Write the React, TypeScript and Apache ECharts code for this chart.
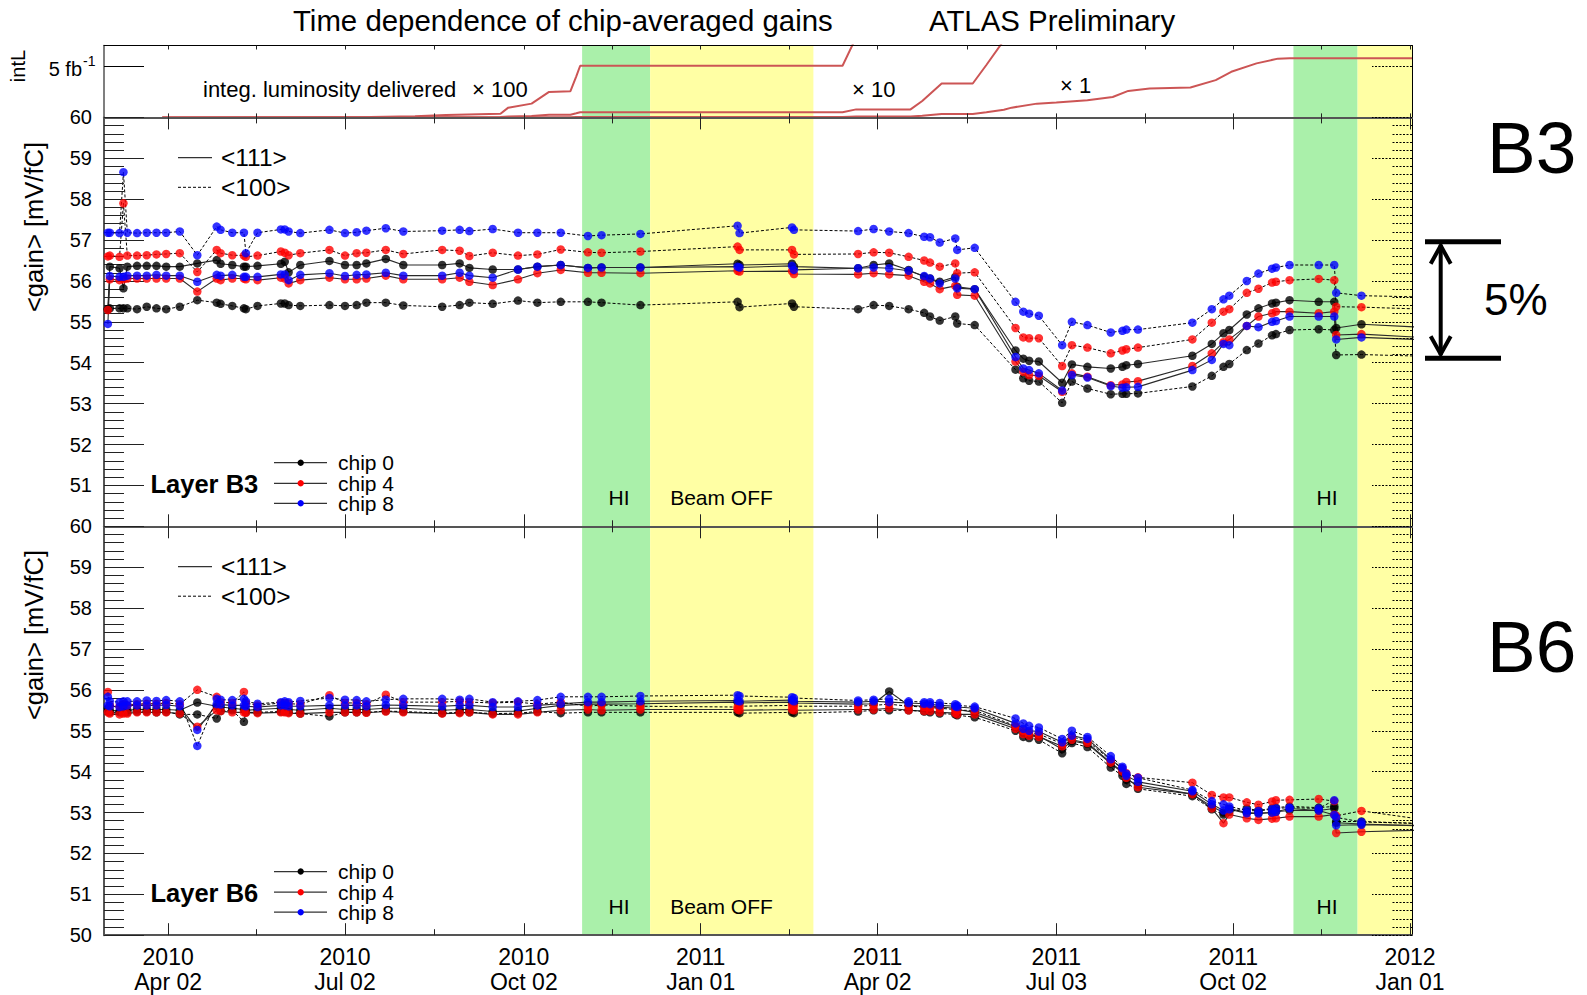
import React, { useEffect, useRef } from "react";
import * as echarts from "echarts";

const FONT = "'Liberation Sans', Arial, Helvetica, sans-serif";

// ---------------- data ----------------

// Calibration runs (shared by both layers)
const runDates = [
  "2010-03-02", "2010-03-03", "2010-03-08", "2010-03-10", "2010-03-12", "2010-03-17", "2010-03-22", "2010-03-27", "2010-04-01", "2010-04-08",
  "2010-04-17", "2010-04-27", "2010-04-29", "2010-05-05", "2010-05-11", "2010-05-12", "2010-05-18", "2010-05-30", "2010-06-01", "2010-06-03",
  "2010-06-09", "2010-06-24", "2010-07-02", "2010-07-08", "2010-07-13", "2010-07-23", "2010-08-01", "2010-08-21", "2010-08-30", "2010-09-04",
  "2010-09-16", "2010-09-29", "2010-10-09", "2010-10-21", "2010-11-04", "2010-11-11", "2010-12-01", "2011-01-20", "2011-01-21", "2011-02-17",
  "2011-02-18", "2011-03-23", "2011-03-31", "2011-04-08", "2011-04-18", "2011-04-26", "2011-04-29", "2011-05-04", "2011-05-12", "2011-05-13",
  "2011-05-22", "2011-06-12", "2011-06-16", "2011-06-19", "2011-06-24", "2011-07-06", "2011-07-11", "2011-07-19", "2011-07-31", "2011-08-06",
  "2011-08-08", "2011-08-14", "2011-09-11", "2011-09-21", "2011-09-27", "2011-09-30", "2011-10-09", "2011-10-15", "2011-10-22", "2011-10-24",
  "2011-10-31", "2011-11-15", "2011-11-23", "2011-11-24", "2011-12-07", "2012-01-15",
];

// Layer B3, chip-averaged gain [mV/fC]
const b3Chip0_111 = [
  55.31, 56.35, 56.31, 55.82, 56.35, 56.37, 56.37, 56.37, 56.35, 56.35,
  56.43, 56.51, 56.42, 56.39, 56.35, 56.35, 56.37, 56.42, 56.47, 56.21,
  56.39, 56.49, 56.39, 56.39, 56.43, 56.54, 56.39, 56.39, 56.43, 56.32,
  56.28, 56.28, 56.35, 56.39, 56.32, 56.33, 56.33, 56.42, 56.39, 56.42,
  56.35, 56.31, 56.39, 56.43, 56.27, 56.10, 56.06, 55.98, 56.10, 55.86,
  55.80, 54.30, 54.10, 54.05, 54.03, 53.51, 53.96, 53.90, 53.86, 53.90,
  53.94, 53.97, 54.17, 54.46, 54.72, 54.80, 55.18, 55.33, 55.45, 55.47,
  55.53, 55.49, 55.49, 54.85, 54.94, 54.85,
];
const b3Chip4_111 = [
  55.29, 56.04, 56.02, 56.04, 56.06, 56.06, 56.06, 56.06, 56.06, 56.06,
  55.74, 56.06, 56.02, 56.06, 56.06, 56.04, 56.02, 56.08, 56.06, 55.94,
  56.02, 56.08, 56.04, 56.04, 56.06, 56.13, 56.04, 56.04, 56.08, 55.98,
  55.90, 56.04, 56.19, 56.27, 56.20, 56.20, 56.19, 56.25, 56.23, 56.24,
  56.17, 56.16, 56.19, 56.16, 56.13, 55.98, 55.94, 55.80, 55.88, 55.66,
  55.64, 54.03, 53.78, 53.70, 53.68, 53.29, 53.74, 53.66, 53.45, 53.47,
  53.53, 53.55, 53.92, 54.23, 54.50, 54.57, 54.90, 55.13, 55.21, 55.25,
  55.25, 55.21, 55.25, 54.68, 54.70, 54.60,
];
const b3Chip8_111 = [
  54.95, 56.12, 56.10, 56.10, 56.13, 56.13, 56.13, 56.15, 56.13, 56.13,
  55.98, 56.15, 56.13, 56.15, 56.10, 56.10, 56.10, 56.16, 56.16, 56.02,
  56.15, 56.19, 56.12, 56.15, 56.16, 56.20, 56.13, 56.13, 56.20, 56.13,
  56.08, 56.28, 56.35, 56.39, 56.32, 56.33, 56.33, 56.35, 56.33, 56.37,
  56.27, 56.31, 56.33, 56.31, 56.25, 56.12, 56.06, 55.94, 56.06, 55.82,
  55.80, 54.14, 53.86, 53.82, 53.74, 53.32, 53.70, 53.64, 53.43, 53.39,
  53.40, 53.41, 53.82, 54.07, 54.46, 54.43, 54.90, 54.87, 55.00, 55.02,
  55.13, 55.13, 55.13, 54.57, 54.62, 54.55,
];
const b3Chip0_100 = [
  55.31, 55.33, 55.33, 55.33, 55.33, 55.31, 55.37, 55.33, 55.31, 55.37,
  55.53, 55.47, 55.44, 55.39, 55.33, 55.31, 55.39, 55.45, 55.45, 55.41,
  55.39, 55.41, 55.39, 55.41, 55.47, 55.47, 55.40, 55.37, 55.41, 55.47,
  55.44, 55.52, 55.47, 55.49, 55.49, 55.47, 55.41, 55.49, 55.36, 55.45,
  55.37, 55.31, 55.41, 55.39, 55.31, 55.22, 55.13, 55.03, 55.13, 54.96,
  54.92, 53.83, 53.62, 53.56, 53.54, 53.02, 53.54, 53.37, 53.23, 53.24,
  53.24, 53.25, 53.42, 53.68, 53.90, 53.97, 54.31, 54.47, 54.67, 54.70,
  54.80, 54.82, 54.80, 54.19, 54.20, 54.15,
];
const b3Chip4_100 = [
  56.60, 56.62, 56.59, 57.90, 56.62, 56.62, 56.63, 56.65, 56.66, 56.68,
  56.22, 56.76, 56.68, 56.63, 56.62, 56.59, 56.62, 56.72, 56.69, 56.63,
  56.68, 56.76, 56.62, 56.68, 56.69, 56.76, 56.66, 56.76, 56.74, 56.61,
  56.69, 56.62, 56.65, 56.77, 56.70, 56.69, 56.72, 56.84, 56.76, 56.76,
  56.65, 56.66, 56.70, 56.69, 56.59, 56.50, 56.45, 56.35, 56.43, 56.19,
  56.21, 54.85, 54.62, 54.60, 54.60, 53.92, 54.43, 54.37, 54.23, 54.30,
  54.33, 54.37, 54.57, 54.98, 55.25, 55.31, 55.71, 55.81, 55.96, 55.98,
  56.02, 56.05, 56.02, 55.37, 55.36, 55.30,
];
const b3Chip8_100 = [
  57.18, 57.18, 57.17, 58.66, 57.18, 57.17, 57.18, 57.18, 57.18, 57.21,
  56.63, 57.33, 57.25, 57.18, 57.18, 56.68, 57.18, 57.26, 57.26, 57.21,
  57.17, 57.25, 57.17, 57.19, 57.23, 57.29, 57.21, 57.23, 57.25, 57.22,
  57.27, 57.18, 57.18, 57.18, 57.10, 57.12, 57.15, 57.35, 57.17, 57.31,
  57.25, 57.22, 57.27, 57.21, 57.17, 57.08, 57.07, 56.94, 57.04, 56.76,
  56.81, 55.49, 55.25, 55.20, 55.15, 54.43, 55.00, 54.92, 54.74, 54.78,
  54.81, 54.81, 54.98, 55.31, 55.55, 55.64, 56.00, 56.18, 56.30, 56.33,
  56.39, 56.39, 56.39, 55.71, 55.64, 55.60,
];

// Layer B6, chip-averaged gain [mV/fC]
const b6Chip0_111 = [
  55.55, 55.50, 55.48, 55.50, 55.50, 55.52, 55.52, 55.52, 55.52, 55.50,
  55.69, 55.60, 55.58, 55.55, 55.52, 55.50, 55.52, 55.55, 55.55, 55.52,
  55.50, 55.55, 55.52, 55.52, 55.52, 55.55, 55.55, 55.50, 55.52, 55.52,
  55.47, 55.48, 55.55, 55.62, 55.65, 55.65, 55.66, 55.70, 55.68, 55.70,
  55.68, 55.65, 55.66, 55.96, 55.62, 55.60, 55.60, 55.58, 55.55, 55.52,
  55.45, 55.10, 54.95, 54.90, 54.88, 54.55, 54.75, 54.68, 54.20, 53.98,
  53.80, 53.68, 53.45, 53.15, 53.00, 53.10, 53.00, 52.98, 53.00, 53.02,
  53.05, 53.05, 53.10, 52.75, 52.72, 52.66,
];
const b6Chip4_111 = [
  55.45, 55.42, 55.40, 55.42, 55.42, 55.45, 55.45, 55.45, 55.45, 55.42,
  55.10, 55.50, 55.48, 55.45, 55.45, 55.44, 55.43, 55.45, 55.45, 55.43,
  55.42, 55.45, 55.45, 55.45, 55.44, 55.47, 55.45, 55.42, 55.43, 55.45,
  55.40, 55.40, 55.45, 55.50, 55.52, 55.50, 55.52, 55.52, 55.50, 55.52,
  55.50, 55.52, 55.52, 55.55, 55.50, 55.48, 55.48, 55.45, 55.43, 55.40,
  55.40, 55.05, 54.92, 54.88, 54.85, 54.62, 54.78, 54.70, 54.22, 54.00,
  53.85, 53.62, 53.45, 53.10, 52.74, 52.95, 52.86, 52.82, 52.85, 52.86,
  52.90, 52.90, 52.95, 52.50, 52.53, 52.58,
];
const b6Chip8_111 = [
  55.62, 55.60, 55.58, 55.60, 55.62, 55.62, 55.62, 55.62, 55.63, 55.60,
  55.02, 55.65, 55.64, 55.62, 55.62, 55.60, 55.58, 55.62, 55.62, 55.60,
  55.60, 55.62, 55.62, 55.62, 55.60, 55.63, 55.62, 55.60, 55.62, 55.62,
  55.58, 55.58, 55.62, 55.66, 55.70, 55.70, 55.72, 55.74, 55.72, 55.75,
  55.72, 55.70, 55.72, 55.70, 55.68, 55.66, 55.65, 55.62, 55.60, 55.58,
  55.55, 55.18, 55.05, 55.00, 54.98, 54.72, 54.88, 54.80, 54.30, 54.08,
  53.90, 53.75, 53.52, 53.20, 53.05, 53.08, 52.98, 52.98, 53.00, 53.02,
  53.10, 53.05, 52.94, 52.69, 52.70, 52.68,
];
const b6Chip0_100 = [
  55.48, 55.45, 55.45, 55.45, 55.45, 55.47, 55.47, 55.45, 55.46, 55.40,
  55.40, 55.30, 55.48, 55.50, 55.22, 55.45, 55.45, 55.47, 55.47, 55.45,
  55.42, 55.35, 55.45, 55.45, 55.45, 55.48, 55.47, 55.43, 55.45, 55.45,
  55.42, 55.43, 55.47, 55.43, 55.45, 55.45, 55.45, 55.45, 55.43, 55.45,
  55.43, 55.47, 55.50, 55.50, 55.50, 55.47, 55.45, 55.42, 55.40, 55.38,
  55.33, 55.00, 54.85, 54.82, 54.78, 54.45, 54.70, 54.60, 54.10, 53.90,
  53.70, 53.58, 53.40, 53.08, 52.95, 53.02, 53.10, 53.05, 53.10, 53.12,
  53.15, 53.12, 53.15, 52.78, 52.78, 52.72,
];
const b6Chip4_100 = [
  55.95, 55.62, 55.60, 55.65, 55.62, 55.65, 55.66, 55.66, 55.68, 55.65,
  56.00, 55.83, 55.70, 55.68, 55.95, 55.68, 55.62, 55.68, 55.68, 55.66,
  55.65, 55.87, 55.68, 55.68, 55.65, 55.88, 55.70, 55.70, 55.72, 55.70,
  55.68, 55.70, 55.65, 55.70, 55.60, 55.63, 55.60, 55.58, 55.60, 55.62,
  55.60, 55.60, 55.62, 55.65, 55.60, 55.58, 55.57, 55.55, 55.52, 55.50,
  55.50, 55.12, 55.00, 54.96, 54.92, 54.68, 54.85, 54.75, 54.28, 54.08,
  53.96, 53.86, 53.73, 53.43, 53.37, 53.37, 53.25, 53.19, 53.27, 53.30,
  53.31, 53.33, 53.28, 52.92, 53.04, 52.78,
];
const b6Chip8_100 = [
  55.83, 55.72, 55.70, 55.72, 55.72, 55.72, 55.74, 55.73, 55.75, 55.72,
  54.63, 55.78, 55.76, 55.75, 55.78, 55.72, 55.66, 55.70, 55.72, 55.70,
  55.73, 55.80, 55.76, 55.75, 55.72, 55.76, 55.78, 55.78, 55.76, 55.78,
  55.70, 55.72, 55.75, 55.83, 55.83, 55.83, 55.85, 55.87, 55.85, 55.82,
  55.80, 55.74, 55.76, 55.78, 55.72, 55.70, 55.70, 55.68, 55.65, 55.62,
  55.59, 55.30, 55.18, 55.12, 55.08, 54.80, 55.00, 54.85, 54.38, 54.12,
  53.95, 53.85, 53.55, 53.28, 53.20, 53.15, 53.05, 53.04, 53.08, 53.10,
  53.12, 53.10, 53.30, 52.88, 52.77, 52.72,
];

// Integrated luminosity delivered [fb^-1]
const lumiDates = [
  "2010-03-30", "2010-06-01", "2010-07-15", "2010-08-07", "2010-08-23", "2010-09-20", "2010-09-24", "2010-10-06", "2010-10-15", "2010-10-26",
  "2010-10-29", "2010-10-31", "2011-03-15", "2011-03-22", "2011-04-19", "2011-04-25", "2011-05-05", "2011-05-21", "2011-05-28", "2011-06-06",
  "2011-06-10", "2011-06-23", "2011-07-03", "2011-07-19", "2011-08-01", "2011-08-09", "2011-08-20", "2011-09-10", "2011-09-23", "2011-10-01",
  "2011-10-14", "2011-10-25", "2011-10-31", "2012-01-02",
];
const lumiDelivered = [
  0, 0.0002, 0.0005, 0.001, 0.0023, 0.0035, 0.0095, 0.0134, 0.0248, 0.0255,
  0.04, 0.0503, 0.0503, 0.078, 0.078, 0.16, 0.33, 0.33, 0.51, 0.75,
  0.95, 1.34, 1.44, 1.67, 1.99, 2.58, 2.81, 2.91, 3.63, 4.44,
  5.26, 5.72, 5.75, 5.75,
];
const lumiScales = [100, 10, 1];
const lumiScaleLabels = ["\u00d7 100", "\u00d7 10", "\u00d7 1"];

// Time axis
const axisRange = ["2010-02-28", "2012-01-02"];
const tickDates = ["2010-04-02", "2010-07-02", "2010-10-02", "2011-01-01", "2011-04-02", "2011-07-03", "2011-10-02", "2012-01-01"];
const tickLabels = ["2010\nApr 02", "2010\nJul 02", "2010\nOct 02", "2011\nJan 01", "2011\nApr 02", "2011\nJul 03", "2011\nOct 02", "2012\nJan 01"];

// Shaded periods
const hiPeriods = [["2010-11-01", "2010-12-06"], ["2011-11-02", "2011-12-05"]];
const beamOffPeriods = [["2010-12-06", "2011-02-28"], ["2011-12-05", "2012-01-02"]];

const chipNames = ["chip 0", "chip 4", "chip 8"];
const chipColors = ["#000000", "#ff0000", "#0000ff"];

// 5% scale bar
const scaleBarGain = 56.96;
const scaleBarFraction = 0.05;

// ---------------- helpers ----------------

const DAY_MS = 86400000;
const EPOCH = Date.UTC(2010, 3, 2);
function toDay(s: string): number {
  const [y, m, d] = s.split("-").map(Number);
  return Math.round((Date.UTC(y, m - 1, d) - EPOCH) / DAY_MS);
}

const runDays = runDates.map(toDay);
const lumiDays = lumiDates.map(toDay);
const majorDays = tickDates.map(toDay);
const minorDays = majorDays.slice(1).map((d, i) => (d + majorDays[i]) / 2);
const X_MIN = toDay(axisRange[0]);
const X_MAX = toDay(axisRange[1]);

const PLOT_LEFT = 104;
const PLOT_WIDTH = 1308;
const LUMI_TOP = 45.5;
const LUMI_H = 71.9;
const B3_TOP = 117.4;
const PANEL_H = 408.9;
const B6_TOP = B3_TOP + PANEL_H;

const HI_COLOR = "#aaf0aa";
const OFF_COLOR = "#ffffa4";
const AXIS_GRAY = "#555555";

function xAxisDef(gridIndex: number, position: string, ticks: number[], len: number, line: any, label?: any) {
  return {
    type: "value",
    gridIndex,
    position,
    min: X_MIN,
    max: X_MAX,
    z: 3,
    axisLine: line ? { show: true, onZero: false, lineStyle: line } : { show: false, onZero: false },
    axisTick: { show: true, inside: true, length: len, customValues: ticks, lineStyle: { color: "#222", width: 1 } },
    axisLabel: label || { show: false },
    splitLine: { show: false },
  };
}

function yLeftDef(gridIndex: number, hideMin: boolean) {
  return {
    type: "value",
    gridIndex,
    position: "left",
    min: 50,
    max: 60,
    interval: 1,
    z: 3,
    axisLine: { show: true, onZero: false, lineStyle: { color: AXIS_GRAY, width: 2 } },
    axisTick: { show: true, inside: true, length: 40, lineStyle: { color: "#222", width: 1 } },
    minorTick: { show: true, splitNumber: 5, length: 20, lineStyle: { color: "#222", width: 1 } },
    axisLabel: {
      show: true,
      margin: 12,
      fontSize: 20,
      fontFamily: FONT,
      color: "#000",
      formatter: (v: number) => (hideMin && v === 50 ? "" : String(v)),
    },
    splitLine: { show: false },
    minorSplitLine: { show: false },
  };
}

function yRightDef(gridIndex: number) {
  const dash = { color: "#000", width: 1, type: [2, 1.5] };
  return {
    type: "value",
    gridIndex,
    position: "right",
    min: 50,
    max: 60,
    interval: 1,
    z: 3,
    axisLine: { show: true, onZero: false, lineStyle: { color: "#000", width: 1 } },
    axisTick: { show: true, inside: true, length: 40, lineStyle: dash },
    minorTick: { show: true, splitNumber: 5, length: 20, lineStyle: dash },
    axisLabel: { show: false },
    splitLine: { show: false },
  };
}

function bandsMarkArea() {
  return {
    silent: true,
    data: [
      ...hiPeriods.map(([a, b]) => [{ xAxis: toDay(a), itemStyle: { color: HI_COLOR } }, { xAxis: toDay(b) }]),
      ...beamOffPeriods.map(([a, b]) => [{ xAxis: toDay(a), itemStyle: { color: OFF_COLOR } }, { xAxis: toDay(b) }]),
    ],
  };
}

function gainSeries(xAxisIndex: number, yAxisIndex: number, c111: number[][], c100: number[][]) {
  const pts = (vals: number[]) => runDays.map((d, i) => [d, vals[i]]);
  const out: any[] = [];
  c111.forEach((v) =>
    out.push({
      type: "line", xAxisIndex, yAxisIndex, data: pts(v), symbol: "none", silent: true, z: 2, clip: true,
      lineStyle: { color: "#2a2a2a", width: 1.1 },
    })
  );
  c100.forEach((v) =>
    out.push({
      type: "line", xAxisIndex, yAxisIndex, data: pts(v), symbol: "none", silent: true, z: 2, clip: true,
      lineStyle: { color: "#000", width: 1, type: [3, 2] },
    })
  );
  out[0].markArea = bandsMarkArea();
  chipColors.forEach((color, ci) =>
    [c111[ci], c100[ci]].forEach((v) =>
      out.push({
        type: "scatter", xAxisIndex, yAxisIndex, data: pts(v), symbol: "circle", symbolSize: 8.5,
        itemStyle: { color }, z: 4, silent: true, clip: true,
      })
    )
  );
  return out;
}

function buildOption() {
  const grayLine = { color: AXIS_GRAY, width: 2 };
  const blackLine = { color: "#000", width: 1 };
  const fineTicks = [...majorDays, ...minorDays];

  const lumiSeries: any[] = lumiScales.map((s) => ({
    type: "line",
    xAxisIndex: 0,
    yAxisIndex: 0,
    data: lumiDays.map((d, i) => [d, lumiDelivered[i] * s]),
    symbol: "none",
    silent: true,
    clip: true,
    z: 2,
    lineStyle: { color: "#cc5555", width: 2 },
  }));
  lumiSeries[0].markArea = bandsMarkArea();

  return {
    animation: false,
    backgroundColor: "#ffffff",
    textStyle: { fontFamily: FONT },
    grid: [
      { left: PLOT_LEFT, top: LUMI_TOP, width: PLOT_WIDTH, height: LUMI_H },
      { left: PLOT_LEFT, top: B3_TOP, width: PLOT_WIDTH, height: PANEL_H },
      { left: PLOT_LEFT, top: B6_TOP, width: PLOT_WIDTH, height: PANEL_H },
    ],
    xAxis: [
      xAxisDef(0, "bottom", fineTicks, 4, grayLine),
      xAxisDef(0, "top", fineTicks, 4, blackLine),
      xAxisDef(1, "bottom", majorDays, 12, grayLine),
      xAxisDef(1, "bottom", minorDays, 6, null),
      xAxisDef(1, "top", majorDays, 12, grayLine),
      xAxisDef(1, "top", minorDays, 6, null),
      xAxisDef(2, "bottom", majorDays, 12, grayLine, {
        show: true,
        customValues: majorDays,
        margin: 10,
        fontSize: 23,
        lineHeight: 24.5,
        fontFamily: FONT,
        color: "#000",
        formatter: (v: number) => {
          const i = majorDays.indexOf(Math.round(v));
          return i >= 0 ? tickLabels[i] : "";
        },
      }),
      xAxisDef(2, "bottom", minorDays, 6, null),
      xAxisDef(2, "top", majorDays, 12, grayLine),
      xAxisDef(2, "top", minorDays, 6, null),
    ],
    yAxis: [
      {
        type: "value", gridIndex: 0, position: "left", min: 0, max: 7, z: 3,
        axisLine: { show: true, onZero: false, lineStyle: { color: AXIS_GRAY, width: 1.5 } },
        axisTick: { show: true, inside: true, length: 40, customValues: [5], lineStyle: { color: "#000", width: 1 } },
        axisLabel: { show: false },
        splitLine: { show: false },
      },
      {
        type: "value", gridIndex: 0, position: "right", min: 0, max: 7, z: 3,
        axisLine: { show: true, onZero: false, lineStyle: { color: "#000", width: 1 } },
        axisTick: { show: true, inside: true, length: 40, customValues: [5], lineStyle: { color: "#000", width: 1, type: [2, 1.5] } },
        axisLabel: { show: false },
        splitLine: { show: false },
      },
      yLeftDef(1, true),
      yRightDef(1),
      yLeftDef(2, false),
      yRightDef(2),
    ],
    series: [
      ...lumiSeries,
      ...gainSeries(2, 2, [b3Chip0_111, b3Chip4_111, b3Chip8_111], [b3Chip0_100, b3Chip4_100, b3Chip8_100]),
      ...gainSeries(6, 4, [b6Chip0_111, b6Chip4_111, b6Chip8_111], [b6Chip0_100, b6Chip4_100, b6Chip8_100]),
    ],
  };
}

function txt(x: number, y: number, text: string, size: number, extra: any = {}) {
  const { align, weight, rotation, valign } = extra;
  return {
    type: "text",
    x,
    y,
    rotation: rotation || 0,
    z: 10,
    silent: true,
    style: {
      text,
      fill: "#000",
      font: `${weight || "normal"} ${size}px ${FONT}`,
      textAlign: align || "left",
      textVerticalAlign: valign || "middle",
    },
  };
}

function seg(x1: number, y1: number, x2: number, y2: number, stroke: string, lineWidth: number, dash?: number[]) {
  return {
    type: "line",
    z: 10,
    silent: true,
    shape: { x1, y1, x2, y2 },
    style: { stroke, lineWidth, lineDash: dash || null },
  };
}

function buildGraphic(chart: any) {
  const g: any[] = [];

  g.push(txt(293, 20, "Time dependence of chip-averaged gains", 29.4));
  g.push(txt(929, 20, "ATLAS Preliminary", 29.4));

  // luminosity panel annotations
  g.push(txt(18, 66, "intL", 20, { align: "center", rotation: Math.PI / 2 }));
  g.push(txt(82, 69, "5 fb", 20, { align: "right" }));
  g.push(txt(83, 61, "-1", 14));
  g.push(txt(203, 89, "integ. luminosity delivered", 22));
  g.push(txt(472, 89, lumiScaleLabels[0], 22));
  g.push(txt(852, 89, lumiScaleLabels[1], 22));
  g.push(txt(1060, 85, lumiScaleLabels[2], 22));

  // per-panel decorations
  [
    { dy: 0, layer: "Layer B3", big: "B3", bigY: 147, name: 227 },
    { dy: PANEL_H, layer: "Layer B6", big: "B6", bigY: 646, name: 635 },
  ].forEach((p) => {
    g.push(txt(34, p.name, "<gain> [mV/fC]", 25.5, { align: "center", rotation: Math.PI / 2 }));
    g.push(seg(178, 157.7 + p.dy, 212, 157.7 + p.dy, "#333", 1.2));
    g.push(txt(221, 157.7 + p.dy, "<111>", 24.5));
    g.push(seg(178, 187.3 + p.dy, 212, 187.3 + p.dy, "#000", 1, [3, 2]));
    g.push(txt(221, 187.3 + p.dy, "<100>", 24.5));

    g.push(txt(150.5, 484 + p.dy, p.layer, 25.5, { weight: "bold" }));
    [462.7, 483.3, 503.3].forEach((y, i) => {
      g.push(seg(274, y + p.dy, 327, y + p.dy, "#333", 1.2));
      g.push({
        type: "circle", z: 10, silent: true,
        shape: { cx: 300.7, cy: y + p.dy, r: 3.2 },
        style: { fill: chipColors[i] },
      });
      g.push(txt(338, y + p.dy, chipNames[i], 21));
    });

    g.push(txt(619, 497.5 + p.dy, "HI", 21, { align: "center" }));
    g.push(txt(721.5, 497.5 + p.dy, "Beam OFF", 21, { align: "center" }));
    g.push(txt(1327, 497.5 + p.dy, "HI", 21, { align: "center" }));

    g.push(txt(1487, p.bigY, p.big, 73));
  });

  // 5% scale bar next to layer B3
  const yHi = chart.convertToPixel({ yAxisIndex: 2 }, scaleBarGain) as number;
  const yLo = chart.convertToPixel({ yAxisIndex: 2 }, scaleBarGain * (1 - scaleBarFraction)) as number;
  const ax = 1440.7;
  g.push(seg(1425, yHi, 1501, yHi, "#000", 5));
  g.push(seg(1425, yLo, 1501, yLo, "#000", 5));
  g.push(seg(ax, yHi + 3, ax, yLo - 3, "#000", 4));
  g.push({
    type: "polyline", z: 10, silent: true,
    shape: { points: [[ax - 10, yHi + 22], [ax, yHi + 4], [ax + 10, yHi + 22]] },
    style: { stroke: "#000", lineWidth: 4, fill: null },
  });
  g.push({
    type: "polyline", z: 10, silent: true,
    shape: { points: [[ax - 10, yLo - 22], [ax, yLo - 4], [ax + 10, yLo - 22]] },
    style: { stroke: "#000", lineWidth: 4, fill: null },
  });
  g.push(txt(1484, (yHi + yLo) / 2, "5%", 44));

  return g;
}

export default function App() {
  const ref = useRef<HTMLDivElement>(null);
  useEffect(() => {
    if (!ref.current) return;
    const chart = echarts.init(ref.current, null, { renderer: "svg" });
    chart.setOption(buildOption() as any);
    chart.setOption({ graphic: buildGraphic(chart) } as any);
    return () => chart.dispose();
  }, []);
  return (
    <div
      ref={ref}
      style={{ position: "fixed", left: 0, top: 0, width: 1587, height: 995, background: "#ffffff" }}
    />
  );
}
